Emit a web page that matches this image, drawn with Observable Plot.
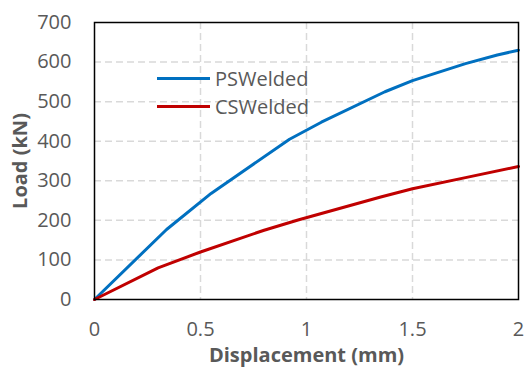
<!DOCTYPE html>
<html>
<head>
<meta charset="utf-8">
<script src="https://cdn.jsdelivr.net/npm/d3@7"></script>
<script src="https://cdn.jsdelivr.net/npm/@observablehq/plot@0.6"></script>
<style>
  html, body { margin: 0; padding: 0; background: #fff; }
</style>
</head>
<body>
<div id="chart"></div>
<script>
const seriesNames = ["PSWelded", "CSWelded"];
const seriesColors = ["#0070C0", "#C00000"];
const psDisp = [0, 0.34, 0.55, 0.92, 1.07, 1.37, 1.5, 1.75, 1.9, 2.0];
const psLoad = [0, 177, 268, 405, 448, 525, 553, 596, 618, 630];
const csDisp = [0, 0.3, 0.5, 0.8, 0.96, 1.35, 1.5, 1.75, 2.0];
const csLoad = [0, 80, 120, 175, 201, 259, 280, 308, 336];
const xTicks = [0, 0.5, 1, 1.5, 2];
const yTicks = [0, 100, 200, 300, 400, 500, 600, 700];

const rows = [
  ...psDisp.map((d, i) => ({series: seriesNames[0], x: d, y: psLoad[i]})),
  ...csDisp.map((d, i) => ({series: seriesNames[1], x: d, y: csLoad[i]}))
];

const legendMark = (index, scales, values, dims) => {
  const g = d3.create("svg:g");
  const x0 = dims.marginLeft + 63, x1 = dims.marginLeft + 116, tx = dims.marginLeft + 121;
  const ys = [dims.marginTop + 56.5, dims.marginTop + 84.5];
  seriesNames.forEach((name, i) => {
    g.append("line").attr("x1", x0).attr("x2", x1).attr("y1", ys[i]).attr("y2", ys[i])
      .attr("stroke", seriesColors[i]).attr("stroke-width", 3);
    g.append("text").attr("x", tx).attr("y", ys[i]).attr("dy", "0.36em")
      .attr("text-anchor", "start")
      .attr("fill", "#595959").attr("font-size", 20).text(name);
  });
  return g.node();
};

const chart = Plot.plot({
  width: 525,
  height: 367,
  marginLeft: 94,
  marginRight: 7,
  marginTop: 22,
  marginBottom: 68,
  style: {fontFamily: "'Open Sans', 'Liberation Sans', sans-serif", fontSize: "20px", color: "#595959", background: "#fff"},
  x: {domain: [0, 2], ticks: xTicks},
  y: {domain: [0, 700], ticks: yTicks},
  color: {domain: seriesNames, range: seriesColors},
  marks: [
    Plot.gridX(xTicks.slice(1, -1), {stroke: "#d9d9d9", strokeOpacity: 1, strokeWidth: 1.5, strokeDasharray: "7,4"}),
    Plot.gridY(yTicks.slice(1, -1), {stroke: "#d9d9d9", strokeOpacity: 1, strokeWidth: 1.5, strokeDasharray: "7,4"}),
    Plot.axisX(xTicks, {tickSize: 0, tickPadding: 22, label: null, fontSize: 20, fill: "#595959", tickFormat: d3.format("~g")}),
    Plot.axisY(yTicks, {tickSize: 0, tickPadding: 23, label: null, fontSize: 20, fill: "#595959"}),
    Plot.line(rows, {x: "x", y: "y", z: "series", stroke: "series", strokeWidth: 3, curve: "linear"}),
    Plot.frame({stroke: "#000", strokeWidth: 1.5}),
    Plot.text(["Load (kN)"], {frameAnchor: "left", dx: -74, rotate: -90, textAnchor: "middle", fontWeight: "bold", fontSize: 20, fill: "#595959"}),
    Plot.text(["Displacement (mm)"], {frameAnchor: "bottom", dy: 56, textAnchor: "middle", lineAnchor: "middle", fontWeight: "bold", fontSize: 20, fill: "#595959"}),
    legendMark
  ]
});
document.getElementById("chart").appendChild(chart);
</script>
</body>
</html>
